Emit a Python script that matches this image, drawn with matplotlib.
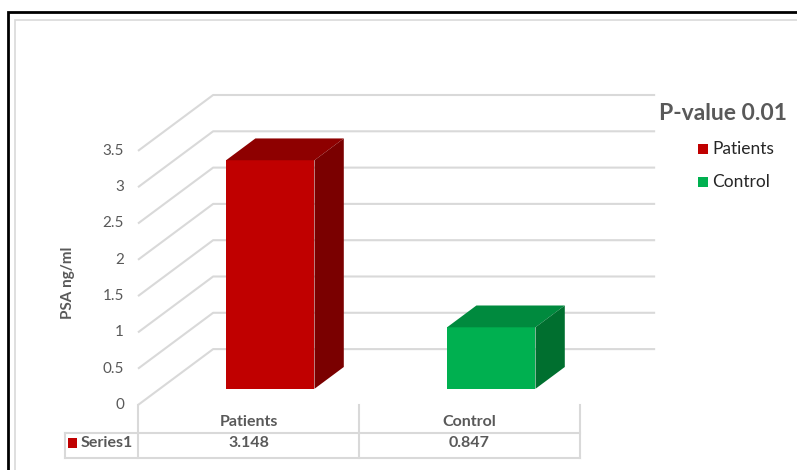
import numpy as np
import matplotlib
matplotlib.use("Agg")
import matplotlib.pyplot as plt
from matplotlib.patches import Polygon, Rectangle

plt.rcParams['font.family'] = ['Lato', 'DejaVu Sans']

categories = ["Patients", "Control"]
values = [3.148, 0.847]
series_name = "Series1"
y_ticks = [0, 0.5, 1, 1.5, 2, 2.5, 3, 3.5]
y_label = "PSA ng/ml"
title = "P-value 0.01"

front_colors = ["#C00000", "#00B050"]
top_colors = ["#8E0000", "#008A3E"]
side_colors = ["#7A0000", "#006F2F"]
grid_color = "#D9D9D9"
text_color = "#595959"

# pseudo 3d: depth moves points right and up
DX = 0.34      # full depth, in category units
DV = 0.77      # full depth, in value units
BAR_F0, BAR_F1 = 0.29, 0.68
BAR_W = 0.40


def proj(x, v, f):
    return x + f * DX, v + f * DV


fig = plt.figure(figsize=(7.97, 4.70), dpi=100)
ax = fig.add_axes([0, 0, 1, 1])
# one category = 221 px, one value unit = 72.6 px
ax.set_xlim(-138 / 221, (797 - 138) / 221)
ax.set_ylim(-(470 - 405) / 72.6, 405 / 72.6)
ax.axis("off")

px = lambda p: p / 221
pv = lambda p: p / 72.6

# frame around the chart area
ax.add_patch(Rectangle((px(8 - 138), pv(405 - 480)), px(800), pv(480 - 12),
                       fill=False, ec="black", lw=2, zorder=10))
ax.add_patch(Rectangle((px(15 - 138), pv(405 - 480)), px(790), pv(480 - 20),
                       fill=False, ec=grid_color, lw=1.2, zorder=10))

n = len(categories)

# side wall and back wall gridlines
for v in y_ticks:
    xb, vb = proj(0, v, 1)
    ax.plot([0, xb, xb + n], [v, vb, vb], color=grid_color, lw=1.5, zorder=1,
            solid_capstyle="butt")
    ax.text(px(-14), v, f"{v:g}", ha="right", va="center", fontsize=11,
            color=text_color)

# bars: front face, top and side
for i, (val, fc, tc, sc) in enumerate(zip(values, front_colors, top_colors, side_colors)):
    x0 = i + 0.5 - BAR_W / 2
    x1 = i + 0.5 + BAR_W / 2
    fx0, fv0 = proj(x0, 0, BAR_F0)
    fx1, _ = proj(x1, 0, BAR_F0)
    bx0, bv0 = proj(x0, 0, BAR_F1)
    bx1, _ = proj(x1, 0, BAR_F1)
    ax.bar(fx0, val, width=fx1 - fx0, bottom=fv0, align="edge", color=fc, zorder=3)
    ax.add_patch(Polygon([(fx0, fv0 + val), (fx1, fv0 + val),
                          (bx1, bv0 + val), (bx0, bv0 + val)],
                         closed=True, fc=tc, ec="none", zorder=3))
    ax.add_patch(Polygon([(fx1, fv0), (fx1, fv0 + val),
                          (bx1, bv0 + val), (bx1, bv0)],
                         closed=True, fc=sc, ec="none", zorder=3))

# data table under the floor
row1 = -pv(17)
row2 = -pv(38)
line_mid = -pv(28)
line_bot = -pv(53)
left = px(65 - 138)
for xv in range(n + 1):
    ax.plot([xv, xv], [0, line_bot], color=grid_color, lw=1.5, zorder=1)
ax.plot([left, left], [line_mid, line_bot], color=grid_color, lw=1.5, zorder=1)
ax.plot([left, n], [line_mid, line_mid], color=grid_color, lw=1.5, zorder=1)
ax.plot([left, n], [line_bot, line_bot], color=grid_color, lw=1.5, zorder=1)
for i, (cat, val) in enumerate(zip(categories, values)):
    ax.text(i + 0.5, row1, cat, ha="center", va="center", fontsize=11.5,
            fontweight="bold", color=text_color)
    ax.text(i + 0.5, row2, f"{val:.3f}", ha="center", va="center", fontsize=11.5,
            fontweight="bold", color=text_color)
ax.add_patch(Rectangle((px(68 - 138), row2 - pv(5)), px(9), pv(10),
                       fc=front_colors[0], ec="none", zorder=4))
ax.text(px(81 - 138), row2, series_name, ha="left", va="center", fontsize=11.5,
        fontweight="bold", color=text_color)

# axis title
ax.text(px(68 - 138), pv(405 - 283), y_label, rotation=90, ha="center",
        va="center", fontsize=11, fontweight="bold", color=text_color)

# title and legend on the right
ax.text(px(659 - 138), pv(405 - 114), title, ha="left", va="center",
        fontsize=16.5, fontweight="bold", color=text_color)
for k, (cat, fc) in enumerate(zip(categories, front_colors)):
    yy = pv(405 - 149 - 33 * k)
    ax.add_patch(Rectangle((px(698 - 138), yy - pv(5)), px(10), pv(10),
                           fc=fc, ec="none", zorder=4))
    ax.text(px(712 - 138), yy, cat, ha="left", va="center", fontsize=12.5,
            color="#262626")

fig.savefig("out.png", dpi=100)
